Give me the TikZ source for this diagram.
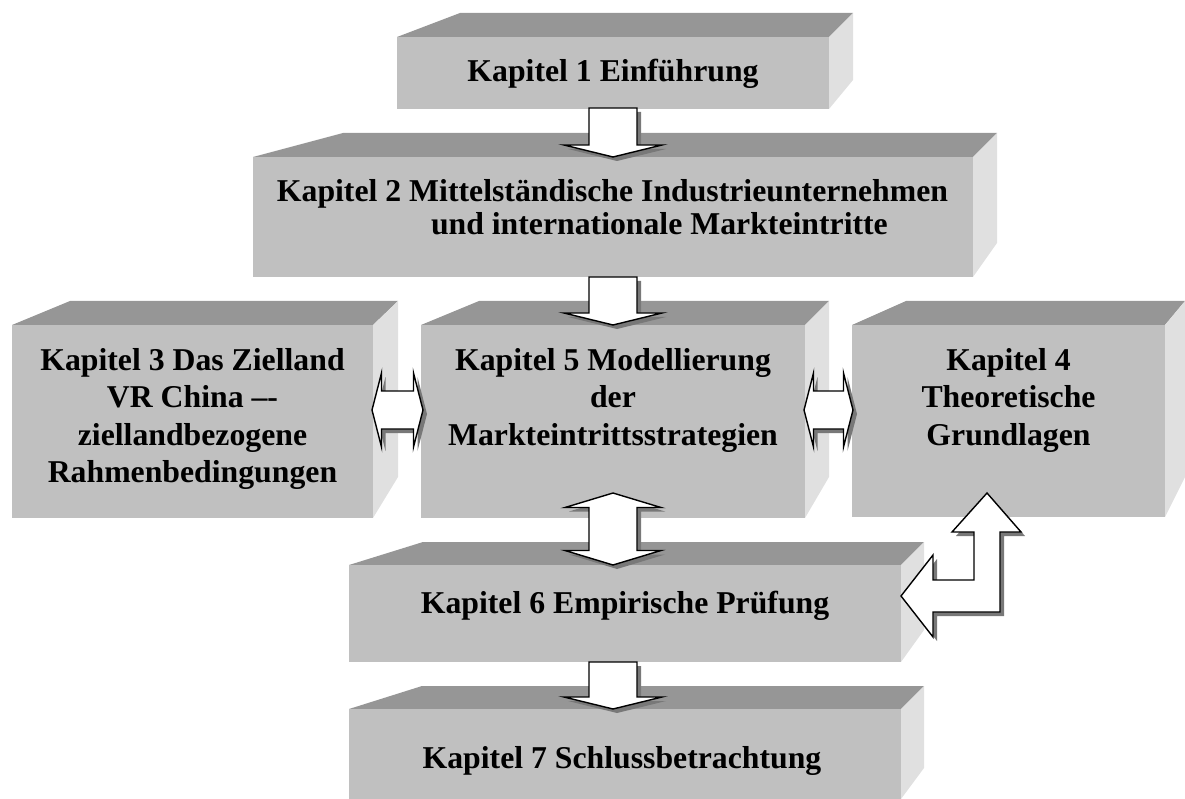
\documentclass[tikz,border=0pt]{standalone}
\usepackage{fontspec}
\setmainfont{Liberation Serif}
\definecolor{frontc}{RGB}{192,192,192}
\definecolor{topc}{RGB}{150,150,150}
\definecolor{sidec}{RGB}{224,224,224}
\definecolor{shadc}{RGB}{120,120,120}
\tikzset{
  lbl/.style={font=\bfseries\fontsize{31.75}{37.5}\selectfont, inner sep=0pt, anchor=base},
  blockarrow/.style={fill=white, draw=black, line width=1.4pt, line join=miter},
  arrowshadow/.style={fill=shadc, draw=none},
}
% name, x1, y1, x2, y2, back-left x, depth dx, depth dy, side back bottom y
\newcommand\cubebox[9]{%
  \fill[topc] (#2,#3) -- (#6,{#3-#8}) -- ({#4+#7},{#3-#8}) -- (#4,#3) -- cycle;
  \fill[sidec] (#4,#3) -- ({#4+#7},{#3-#8}) -- ({#4+#7},#9) -- (#4,#5) -- cycle;
  \fill[frontc] (#2,#3) rectangle (#4,#5);
  \coordinate (#1) at ({(#2+#4)/2},{(#3+#5)/2});
}
\newcommand\shadowedarrow[1]{%
  \fill[arrowshadow, shift={(4,4)}] #1;
  \draw[blockarrow] #1;
}
% down arrow: cx, ytop, yhead, ytip
\newcommand\downblock[4]{%
  \shadowedarrow{({#1-24},#2) -- ({#1+24},#2) -- ({#1+24},#3) -- ({#1+49},#3) -- (#1,#4) -- ({#1-49},#3) -- ({#1-24},#3) -- cycle}%
}
% horizontal double arrow: x left tip, x right tip
\newcommand\hdouble[2]{%
  \shadowedarrow{(#1,410) -- ({#1+9.5},373) -- ({#1+9.5},391) -- ({#2-9.5},391) -- ({#2-9.5},373) -- (#2,410) -- ({#2-9.5},447) -- ({#2-9.5},429) -- ({#1+9.5},429) -- ({#1+9.5},447) -- cycle}%
}
\begin{document}
\begin{tikzpicture}[x=1pt, y=-1pt]
\useasboundingbox (0,0) rectangle (1185,799);

% boxes
\cubebox{b1}{397}{37}{829}{109}{460}{24}{24}{80}
\cubebox{b2}{253}{157}{973}{277}{343}{24}{24}{243}
\cubebox{b3}{12}{325}{373}{518}{70}{25}{24}{477}
\cubebox{b5}{421}{325}{805}{518}{479}{24}{24}{477}
\cubebox{b4}{852}{325}{1165}{517}{906}{20}{24}{477}
\cubebox{b6}{349}{565}{901}{662}{423}{23}{23}{630}
\cubebox{b7}{349}{709}{901}{799}{422}{23}{23}{768}

% texts
\node[lbl] (t1) at (613,82) {Kapitel 1 Einführung};
\node[lbl] (t2a) at (612.5,202) {Kapitel 2 Mittelständische Industrieunternehmen};
\node[lbl, anchor=base east] (t2b) at (888,235) {und internationale Markteintritte};
\node[lbl] (t3a) at (192.5,370) {Kapitel 3 Das Zielland};
\node[lbl] (t3b) at (192.5,407.5) {VR China \textendash-};
\node[lbl] (t3c) at (192.5,445) {ziellandbezogene};
\node[lbl] (t3d) at (192.5,482.5) {Rahmenbedingungen};
\node[lbl] (t5a) at (613,370) {Kapitel 5 Modellierung};
\node[lbl] (t5b) at (613,407.5) {der};
\node[lbl] (t5c) at (613,445) {Markteintrittsstrategien};
\node[lbl] (t4a) at (1008.5,370) {Kapitel 4};
\node[lbl] (t4b) at (1008.5,407.5) {Theoretische};
\node[lbl] (t4c) at (1008.5,445) {Grundlagen};
\node[lbl] (t6) at (625,613) {Kapitel 6 Empirische Prüfung};
\node[lbl] (t7) at (622,768) {Kapitel 7 Schlussbetrachtung};

% arrows
\downblock{613}{108}{145}{157}
\downblock{613}{277}{313}{325}
\downblock{613}{662}{697}{709}
\hdouble{372}{423}
\hdouble{804}{853}
\shadowedarrow{(613,493) -- (661,507.5) -- (637,507.5) -- (637,550.5) -- (661,550.5) -- (613,565) -- (565,550.5) -- (589,550.5) -- (589,507.5) -- (565,507.5) -- cycle}
\shadowedarrow{(987,493) -- (1021,532) -- (1000,532) -- (1000,612) -- (933,612) -- (933,637) -- (901,596) -- (933,555) -- (933,580) -- (974,580) -- (974,532) -- (952,532) -- cycle}
\end{tikzpicture}
\end{document}
